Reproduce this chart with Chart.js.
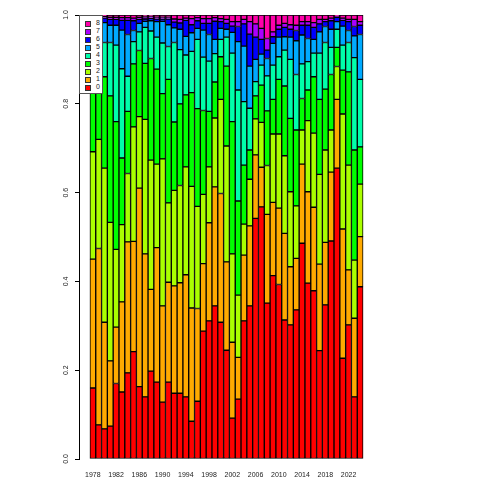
<!DOCTYPE html>
<html>
<head>
<meta charset="utf-8">
<script src="https://cdn.jsdelivr.net/npm/chart.js@4/dist/chart.umd.min.js"></script>
<style>
  html, body { margin: 0; padding: 0; background: #fff; }
  #wrap { position: relative; width: 480px; height: 480px; }
  #legend {
    position: absolute; left: 79px; top: 15px; width: 22px; height: 77px;
    background: #fff; border: 1px solid #555;
    font: 7px "Liberation Sans", Arial, sans-serif; color: #222;
  }
  .row { position: absolute; left: 0; height: 8px; width: 22px; }
  .sw { position: absolute; left: 5px; top: 1px; width: 4px; height: 4px; border: 1px solid #333; }
  .lab { position: absolute; left: 16px; top: -1px; line-height: 8px; }
</style>
</head>
<body>
<div id="wrap">
  <canvas id="chart" width="480" height="480"></canvas>
  <div id="legend"></div>
</div>
<script>
// years on the x axis, one bar each
const years = [1978, 1979, 1980, 1981, 1982, 1983, 1984, 1985, 1986, 1987,
  1988, 1989, 1990, 1991, 1992, 1993, 1994, 1995, 1996, 1997,
  1998, 1999, 2000, 2001, 2002, 2003, 2004, 2005, 2006, 2007,
  2008, 2009, 2010, 2011, 2012, 2013, 2014, 2015, 2016, 2017,
  2018, 2019, 2020, 2021, 2022, 2023, 2024];
const yearTicks = [1978, 1982, 1986, 1990, 1994, 1998, 2002, 2006, 2010, 2014, 2018, 2022];
const shareTicks = [0, 0.2, 0.4, 0.6, 0.8, 1.0];

const categories = ['0', '1', '2', '3', '4', '5', '6', '7', '8'];
const colors = ['#FF0000', '#FFAA00', '#AAFF00', '#00FF00', '#00FFAA', '#00AAFF', '#0000FF', '#AA00FF', '#FF00AA'];

// share of each category per year
const cat0 = [0.160, 0.077, 0.068, 0.074, 0.170, 0.151, 0.194, 0.242, 0.163, 0.140,
  0.198, 0.173, 0.128, 0.173, 0.148, 0.148, 0.140, 0.085, 0.130, 0.288,
  0.311, 0.345, 0.308, 0.245, 0.092, 0.135, 0.311, 0.345, 0.542, 0.568,
  0.351, 0.413, 0.393, 0.313, 0.302, 0.336, 0.486, 0.396, 0.379, 0.244,
  0.347, 0.491, 0.655, 0.227, 0.302, 0.140, 0.388];
const cat1 = [0.290, 0.397, 0.240, 0.147, 0.127, 0.203, 0.295, 0.248, 0.447, 0.322,
  0.184, 0.303, 0.217, 0.225, 0.242, 0.249, 0.275, 0.255, 0.209, 0.152,
  0.221, 0.268, 0.290, 0.199, 0.171, 0.094, 0.148, 0.180, 0.143, 0.089,
  0.200, 0.165, 0.172, 0.195, 0.131, 0.116, 0.178, 0.206, 0.188, 0.195,
  0.141, 0.155, 0.155, 0.291, 0.124, 0.177, 0.113];
const cat2 = [0.242, 0.246, 0.347, 0.312, 0.175, 0.174, 0.154, 0.258, 0.161, 0.303,
  0.291, 0.188, 0.331, 0.179, 0.215, 0.219, 0.243, 0.274, 0.230, 0.156,
  0.126, 0.155, 0.212, 0.261, 0.199, 0.140, 0.070, 0.105, 0.081, 0.101,
  0.110, 0.154, 0.167, 0.175, 0.169, 0.118, 0.077, 0.160, 0.167, 0.202,
  0.208, 0.095, 0.074, 0.259, 0.236, 0.131, 0.118];
const cat3 = [0.168, 0.150, 0.206, 0.285, 0.288, 0.150, 0.140, 0.142, 0.149, 0.126,
  0.229, 0.214, 0.147, 0.278, 0.154, 0.184, 0.162, 0.211, 0.220, 0.189,
  0.125, 0.081, 0.096, 0.180, 0.298, 0.212, 0.133, 0.066, 0.052, 0.084,
  0.123, 0.078, 0.123, 0.157, 0.165, 0.171, 0.071, 0.069, 0.127, 0.169,
  0.137, 0.125, 0.043, 0.099, 0.210, 0.248, 0.084];
const cat4 = [0.075, 0.070, 0.077, 0.120, 0.172, 0.201, 0.079, 0.050, 0.042, 0.081,
  0.062, 0.072, 0.114, 0.074, 0.179, 0.122, 0.090, 0.093, 0.156, 0.120,
  0.113, 0.064, 0.039, 0.065, 0.154, 0.250, 0.143, 0.094, 0.032, 0.045,
  0.079, 0.077, 0.051, 0.081, 0.133, 0.125, 0.078, 0.064, 0.053, 0.104,
  0.105, 0.061, 0.041, 0.056, 0.066, 0.208, 0.152];
const cat5 = [0.040, 0.035, 0.045, 0.039, 0.045, 0.087, 0.094, 0.025, 0.019, 0.014,
  0.023, 0.035, 0.049, 0.049, 0.033, 0.046, 0.042, 0.042, 0.025, 0.061,
  0.060, 0.032, 0.025, 0.018, 0.047, 0.109, 0.125, 0.095, 0.050, 0.025,
  0.039, 0.049, 0.044, 0.030, 0.050, 0.076, 0.065, 0.052, 0.031, 0.048,
  0.036, 0.041, 0.017, 0.043, 0.027, 0.049, 0.101];
const cat6 = [0.015, 0.015, 0.010, 0.013, 0.013, 0.022, 0.032, 0.022, 0.009, 0.005,
  0.005, 0.006, 0.005, 0.013, 0.013, 0.014, 0.036, 0.018, 0.017, 0.015,
  0.025, 0.041, 0.015, 0.013, 0.014, 0.034, 0.050, 0.072, 0.050, 0.033,
  0.019, 0.015, 0.018, 0.021, 0.018, 0.023, 0.022, 0.030, 0.027, 0.018,
  0.011, 0.019, 0.010, 0.013, 0.020, 0.021, 0.021];
const cat7 = [0.005, 0.005, 0.004, 0.005, 0.005, 0.006, 0.006, 0.006, 0.005, 0.005,
  0.004, 0.004, 0.004, 0.004, 0.007, 0.008, 0.005, 0.014, 0.007, 0.011,
  0.011, 0.008, 0.007, 0.009, 0.010, 0.011, 0.010, 0.028, 0.030, 0.025,
  0.026, 0.011, 0.009, 0.009, 0.010, 0.012, 0.008, 0.008, 0.011, 0.010,
  0.005, 0.006, 0.002, 0.005, 0.005, 0.016, 0.008];
const cat8 = [0.005, 0.005, 0.003, 0.005, 0.005, 0.006, 0.006, 0.007, 0.005, 0.004,
  0.004, 0.005, 0.005, 0.005, 0.009, 0.010, 0.007, 0.008, 0.006, 0.008,
  0.008, 0.006, 0.008, 0.010, 0.015, 0.015, 0.010, 0.015, 0.020, 0.030,
  0.053, 0.038, 0.023, 0.019, 0.022, 0.023, 0.015, 0.015, 0.017, 0.010,
  0.010, 0.007, 0.003, 0.007, 0.010, 0.010, 0.015];

const series = [cat0, cat1, cat2, cat3, cat4, cat5, cat6, cat7, cat8];

const datasets = series.map((vals, i) => ({
  label: categories[i],
  data: vals.map((v, j) => ({ x: years[j], y: v })),
  backgroundColor: colors[i],
  borderColor: '#000',
  borderWidth: 1,
  borderSkipped: false,
  barPercentage: 1,
  categoryPercentage: 1
}));

const font = { family: '"Liberation Sans", Arial, sans-serif', size: 7 };

new Chart(document.getElementById('chart'), {
  type: 'bar',
  data: { datasets },
  options: {
    responsive: false,
    animation: false,
    devicePixelRatio: 1,
    layout: { padding: { left: 0, right: 106, top: 15, bottom: 0 } },
    plugins: { legend: { display: false }, tooltip: { enabled: false } },
    scales: {
      x: {
        type: 'linear',
        stacked: true,
        offset: false,
        min: 1975.62,
        max: 2026.38,
        grid: { display: false, drawTicks: false },
        border: { display: false },
        afterBuildTicks: (s) => { s.ticks = yearTicks.map(v => ({ value: v })); },
        afterFit: (s) => { s.height = 21; },
        ticks: {
          padding: 12, color: '#222', font, maxRotation: 0, autoSkip: false,
          callback: (v) => String(v)
        }
      },
      y: {
        stacked: true,
        min: 0,
        max: 1,
        grid: { drawOnChartArea: false, drawTicks: true, tickLength: 4, color: '#000' },
        border: { display: true, color: '#000', width: 1 },
        afterBuildTicks: (s) => { s.ticks = shareTicks.map(v => ({ value: v })); },
        afterFit: (s) => { s.width = 79; },
        ticks: {
          padding: 4, color: '#222', font, crossAlign: 'center',
          minRotation: 90, maxRotation: 90,
          callback: (v) => v.toFixed(1)
        }
      }
    }
  }
});

// legend box, top-left, drawn over the bars like the reference
const legendBox = document.getElementById('legend');
for (let i = categories.length - 1; i >= 0; i--) {
  const row = document.createElement('div');
  row.className = 'row';
  row.style.top = (4 + (categories.length - 1 - i) * 8) + 'px';
  row.innerHTML = '<span class="sw" style="background:' + colors[i] + '"></span><span class="lab">' + categories[i] + '</span>';
  legendBox.appendChild(row);
}
</script>
</body>
</html>
